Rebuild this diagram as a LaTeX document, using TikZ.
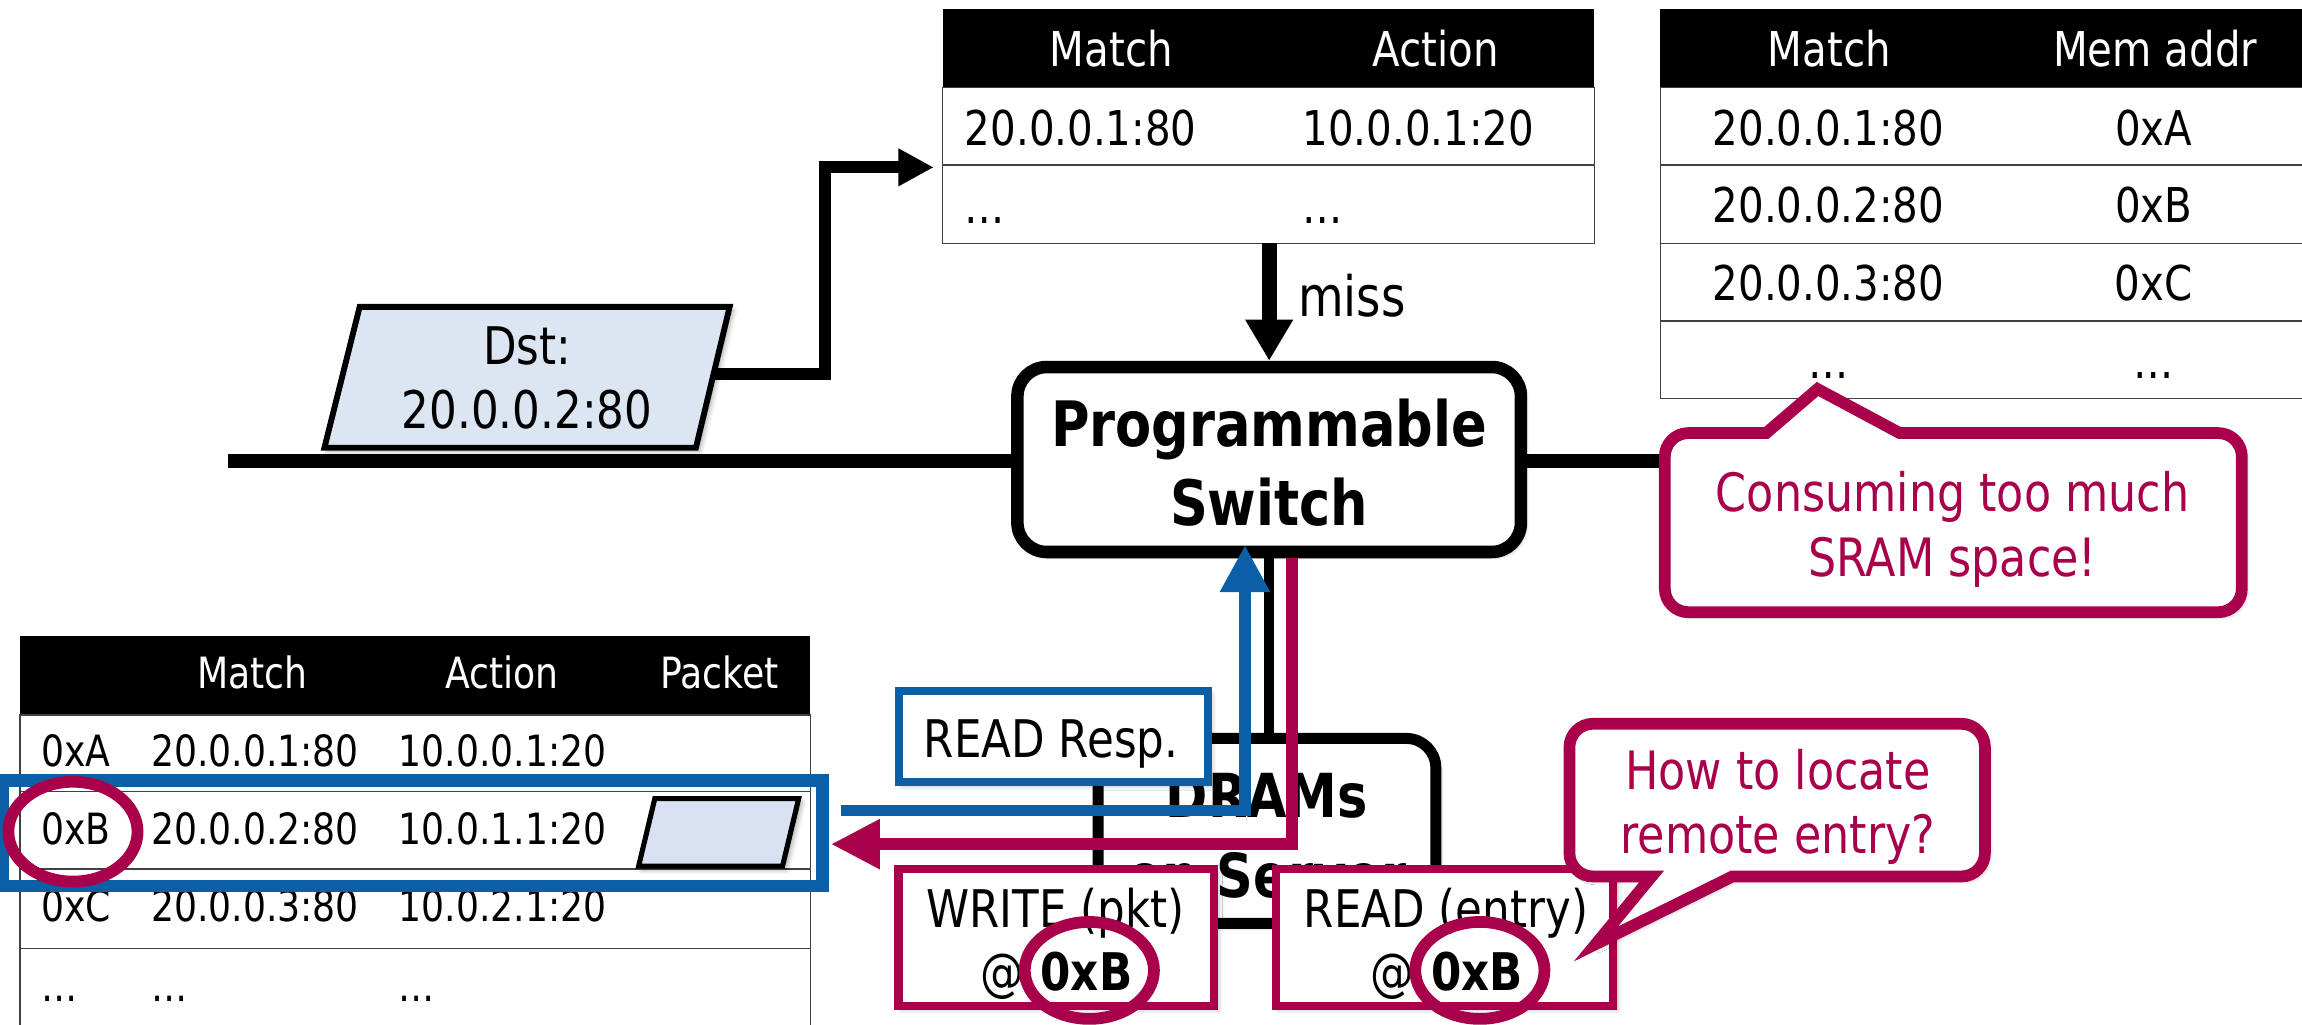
\documentclass[tikz,border=0pt]{standalone}
\usepackage{fontspec}
\setmainfont{DejaVu Sans}[FakeStretch=0.84]
\usetikzlibrary{arrows.meta,calc,shadows.blur}

\definecolor{crim}{HTML}{A8004B}
\definecolor{rblue}{HTML}{0B5FA6}
\definecolor{pktfill}{HTML}{DCE6F2}
\definecolor{pktfillb}{HTML}{D9E1F2}
\definecolor{rulegray}{HTML}{404040}

\newcommand{\fTop}{\fontsize{24.5}{29}\selectfont}
\newcommand{\fBot}{\fontsize{22}{26}\selectfont}
\newcommand{\fMid}{\fontsize{26.5}{32}\selectfont}
\newcommand{\fCall}{\fontsize{27}{32}\selectfont}
\newcommand{\fSw}{\fontsize{32}{38}\selectfont\bfseries}
\newcommand{\fDram}{\fontsize{31}{37}\selectfont\bfseries}

\tikzset{
  txt/.style={inner sep=0pt, anchor=base},
  txtw/.style={inner sep=0pt, anchor=base west},
  hdrtop/.style={txt, text=white, font=\fTop},
  celltop/.style={txt, font=\fTop},
  celltopw/.style={txtw, font=\fTop},
  hdrbot/.style={txt, text=white, font=\fBot},
  cellbot/.style={txtw, font=\fBot},
  midtxt/.style={txt, font=\fMid},
  calltxt/.style={txt, font=\fCall, text=crim},
  gridrule/.style={draw=rulegray, line width=0.8pt},
  softshadow/.style={blur shadow={shadow xshift=1.8pt, shadow yshift=-1.8pt,
      shadow blur radius=2.5pt, shadow opacity=35}},
  switchbox/.style={draw=black, fill=white, line width=6.4pt, rounded corners=15pt,
      minimum width=257.25pt, minimum height=94.5pt, inner sep=0pt, softshadow},
  drambox/.style={draw=black, fill=white, line width=5.6pt, rounded corners=15pt,
      minimum width=172.5pt, minimum height=94.5pt, inner sep=0pt, softshadow},
  opbox/.style={draw=crim, fill=white, line width=4.1pt, minimum height=69.75pt,
      inner sep=0pt, softshadow},
  respbox/.style={draw=rblue, fill=white, line width=4.1pt, minimum width=157.5pt,
      minimum height=46.5pt, inner sep=0pt, softshadow},
  callout/.style={draw=crim, fill=white, line width=6pt, line join=miter, softshadow},
  ring/.style={draw=crim, line width=6pt},
  pktshape/.style={draw=black, fill=pktfill, line width=3pt, line join=miter, softshadow},
  pktsmall/.style={draw=black, fill=pktfillb, line width=2.6pt, line join=miter, softshadow},
  wire/.style={draw=black, line width=7.5pt},
  pktarrow/.style={draw=black, line width=6pt, line join=miter, -{Triangle[length=18pt, width=18pt]}},
  missarrow/.style={draw=black, line width=7.5pt, -{Triangle[length=21pt, width=23pt]}},
  respflow/.style={draw=rblue, line width=6pt, line join=miter, -{Triangle[length=24pt, width=24pt]}},
  reqflow/.style={draw=crim, line width=6pt, line join=miter, -{Triangle[length=25pt, width=24pt]}},
}

\begin{document}
\begin{tikzpicture}[x=0.75pt, y=-0.75pt]
\useasboundingbox (0,0) rectangle (1568,698);

% ---------- match-action table in the switch ----------
\fill[black] (642,6.4) rectangle (1086,59.5);
\draw[gridrule] (642,59.5) rectangle (1086,165.8);
\draw[gridrule] (642,112.4) -- (1086,112.4);
\node[hdrtop] (t1h1) at (757,45.5) {Match};
\node[hdrtop] (t1h2) at (978,45.5) {Action};
\node[celltopw] (t1a) at (657,98.8) {20.0.0.1:80};
\node[celltopw] (t1b) at (887,98.8) {10.0.0.1:20};
\node[celltopw] (t1c) at (657,152) {…};
\node[celltopw] (t1d) at (887,152) {…};
\coordinate (t1miss) at (864.5,165.8);
\coordinate (t1in) at (636,114);

% ---------- match / memory-address table ----------
\fill[black] (1131,6.4) rectangle (1575,59.5);
\draw[gridrule] (1575,59.5) -- (1131,59.5) -- (1131,271.3) -- (1575,271.3);
\foreach \yy in {112.4,165.8,218.7} \draw[gridrule] (1131,\yy) -- (1575,\yy);
\node[hdrtop] (t2h1) at (1246,45.5) {Match};
\node[hdrtop] (t2h2) at (1468,45.5) {Mem addr};
\foreach \m/\a/\yb [count=\i] in {20.0.0.1:80/0xA/98.8, 20.0.0.2:80/0xB/151.7, 20.0.0.3:80/0xC/205} {
  \node[celltop] (t2m\i) at (1245.5,\yb) {\m};
  \node[celltop] (t2a\i) at (1467,\yb) {\a};
}
\node[celltop] (t2m4) at (1245.5,257.6) {…};
\node[celltop] (t2a4) at (1467,257.6) {…};

% ---------- network line ----------
\coordinate (netL) at (155,314);
\coordinate (netR) at (1140,314);
\draw[wire] (netL) -- (netR);

% ---------- packet and lookup arrow ----------
\coordinate (pktR) at (486,255);
\coordinate (jog) at (562,0);
\draw[pktarrow] (pktR) -- (pktR -| jog) |- (t1in);
\draw[pktshape] (245,209) -- (497,209) -- (474,305) -- (221,305) -- cycle;
\node[midtxt] (dst1) at (359,248.6) {Dst:};
\node[midtxt] (dst2) at (359,291.8) {20.0.0.2:80};

% ---------- programmable switch ----------
\node[switchbox] (sw) at (864.5,313) {};
\node[txt, font=\fSw] (swt1) at (864.5,304.3) {Programmable};
\node[txt, font=\fSw] (swt2) at (864.5,357.7) {Switch};
\draw[missarrow] (t1miss) -- (sw.north);
\node[txtw, font=\fontsize{28.5}{34}\selectfont] (misslbl) at (884,215.7) {miss};

% ---------- "consuming too much" callout ----------
\draw[callout] (1150,295) -- (1203,295) -- (1238,265) -- (1294,295) -- (1511,295)
  arc[start angle=270, end angle=360, radius=16] -- (1527,401)
  arc[start angle=0, end angle=90, radius=16] -- (1150,417)
  arc[start angle=90, end angle=180, radius=16] -- (1134,311)
  arc[start angle=180, end angle=270, radius=16] -- cycle;
\node[calltxt] (c1a) at (1330,348.6) {Consuming too much};
\node[calltxt] (c1b) at (1330,392.6) {SRAM space!};

% ---------- remote table in server memory ----------
\fill[black] (13.7,433) rectangle (552,487);
\draw[gridrule] (13.7,712) -- (13.7,487) -- (552,487) -- (552,712);
\foreach \yy in {539,592,646} \draw[gridrule] (13.7,\yy) -- (552,\yy);
\node[hdrbot] (t3h1) at (172,469) {Match};
\node[hdrbot] (t3h2) at (342,469) {Action};
\node[hdrbot] (t3h3) at (490,469) {Packet};
\foreach \ad/\m/\a/\yb [count=\i] in {0xA/20.0.0.1:80/10.0.0.1:20/522.3,
    0xB/20.0.0.2:80/10.0.1.1:20/575, 0xC/20.0.0.3:80/10.0.2.1:20/628} {
  \node[cellbot] (t3d\i) at (27.7,\yb) {\ad};
  \node[cellbot] (t3m\i) at (102.6,\yb) {\m};
  \node[cellbot] (t3a\i) at (271.4,\yb) {\a};
}
\node[cellbot] (t3d4) at (27.7,682) {…};
\node[cellbot] (t3m4) at (102.6,682) {…};
\node[cellbot] (t3a4) at (271.4,682) {…};
\draw[pktsmall] (446,544) -- (544,544) -- (533,590) -- (435,590) -- cycle;
\draw[rblue, line width=6.5pt] (2,531.5) rectangle (560,603.5);
\draw[ring] ($(t3d2.base west)+(22,-8.5)$) ellipse [x radius=44, y radius=34];

% ---------- DRAMs on the server ----------
\node[drambox] (dram) at (863,566) {};
\node[txt, font=\fDram] (dr1) at (863,557) {DRAMs};
\node[txt, font=\fDram] (dr2) at (863,611) {on Server};
\draw[line width=5.3pt] (sw.south) -- (sw.south |- dram.north);

% ---------- read response ----------
\node[respbox] (resp) at (717.5,501.5) {};
\node[midtxt] (respt) at (716,516) {READ Resp.};
\coordinate (bstart) at (573,552);
\draw[respflow] (bstart) -| ($(sw.south)+(-16.5,-9)$);

% ---------- write / read requests ----------
\coordinate (cend) at (566,575);
\draw[reqflow] ($(sw.south)+(15.5,0)$) |- (cend);

\node[opbox, minimum width=161.25pt] (wbox) at (719.5,638.5) {};
\node[midtxt] (wt1) at (719,631.5) {WRITE (pkt)};
\node[txt, font=\fMid\bfseries] (wx) at (740,675) {0xB};
\node[txt, anchor=base east, font=\fMid] (wat) at ($(wx.base west)+(-11,0)$) {@};
\draw[ring] ($(wx.base)+(2,-14)$) ellipse [x radius=44, y radius=33];

\node[opbox, minimum width=172.5pt] (rbox) at (984,638.5) {};
\node[midtxt] (rt1) at (985,631.5) {READ (entry)};
\node[txt, font=\fMid\bfseries] (rx) at (1006,675) {0xB};
\node[txt, anchor=base east, font=\fMid] (rat) at ($(rx.base west)+(-11,0)$) {@};
\draw[ring] ($(rx.base)+(2,-14)$) ellipse [x radius=44, y radius=33];

% ---------- "how to locate" callout ----------
\draw[callout] (1085,493) -- (1336,493)
  arc[start angle=270, end angle=360, radius=16] -- (1352,581)
  arc[start angle=0, end angle=90, radius=16] -- (1180,597) -- (1087,643) -- (1125,597) -- (1085,597)
  arc[start angle=90, end angle=180, radius=16] -- (1069,509)
  arc[start angle=180, end angle=270, radius=16] -- cycle;
\node[calltxt] (c2a) at (1211,537.7) {How to locate};
\node[calltxt] (c2b) at (1211,581.4) {remote entry?};

\end{tikzpicture}
\end{document}
